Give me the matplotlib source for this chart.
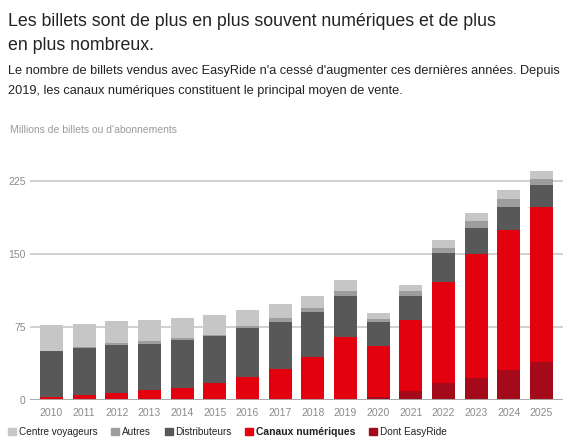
import matplotlib
matplotlib.use("Agg")
import matplotlib.pyplot as plt
from matplotlib.patches import Patch
import numpy as np

plt.rcParams['font.family'] = ['Liberation Sans', 'DejaVu Sans']

years = ['2010', '2011', '2012', '2013', '2014', '2015', '2016', '2017',
         '2018', '2019', '2020', '2021', '2022', '2023', '2024', '2025']
# component values (millions); EasyRide is a part of Canaux numériques
easyride = [0, 0, 0, 0, 0, 0, 0, 0, 0, 0, 3.1, 9.2, 17.5, 22.6, 30.8, 39.0]
numeriques = [3.1, 5.1, 7.2, 10.6, 12.7, 17.5, 23.6, 31.9, 44.2, 64.7, 55.8, 82.2, 121.2, 150.0, 174.7, 198.3]
distributeurs = [47.2, 48.3, 49.3, 47.3, 48.9, 48.3, 50.4, 48.2, 46.2, 42.2, 24.3, 24.7, 29.8, 26.7, 23.6, 22.6]
autres = [0.0, 0.7, 2.1, 2.7, 2.1, 1.3, 2.4, 4.1, 4.1, 5.1, 3.1, 5.1, 5.2, 7.2, 8.2, 6.2]
centre = [26.7, 23.9, 22.6, 21.6, 20.5, 20.2, 16.1, 14.4, 12.4, 11.3, 6.2, 6.2, 8.2, 8.2, 9.3, 8.2]
yticks = [0, 75, 150, 225]

labels = ['Centre voyageurs', 'Autres', 'Distributeurs', 'Canaux numériques', 'Dont EasyRide']
colors = {'centre': '#c6c6c6', 'autres': '#9d9d9d', 'dist': '#575857',
          'num': '#e3000f', 'easy': '#a50a1a'}

fig = plt.figure(figsize=(5.71, 4.48), dpi=100)
W, H = 571, 448
ax = fig.add_axes([30 / W, (H - 400) / H, (563 - 30) / W, (400 - 166.4) / H])

x = np.arange(len(years))
e = np.array(easyride)
n = np.array(numeriques)
d = np.array(distributeurs)
a = np.array(autres)
c = np.array(centre)
bw = 0.70
ax.bar(x, e, bw, color=colors['easy'], zorder=3)
ax.bar(x, n - e, bw, bottom=e, color=colors['num'], zorder=3)
ax.bar(x, d, bw, bottom=n, color=colors['dist'], zorder=3)
ax.bar(x, a, bw, bottom=n + d, color=colors['autres'], zorder=3)
ax.bar(x, c, bw, bottom=n + d + a, color=colors['centre'], zorder=3)

ax.set_xlim(-0.66, len(years) - 1 + 0.66)
ax.set_ylim(0, 240)
ax.set_yticks(yticks)
ax.set_yticklabels([str(v) for v in yticks])
ax.set_xticks(x)
ax.set_xticklabels(years)
for s in ax.spines.values():
    s.set_visible(False)
ax.tick_params(axis='both', length=0, labelsize=7.5, labelcolor='#8a8a8a')
ax.tick_params(axis='x', pad=6)
ax.tick_params(axis='y', pad=3)
for v in yticks:
    if v == 0:
        ax.axhline(v, color='#a8a8a8', lw=1.4, zorder=4)
    else:
        ax.axhline(v, color='#c8c8c8', lw=1.2, zorder=1)

fig.text(8 / W, 1 - 26 / H, "Les billets sont de plus en plus souvent numériques et de plus",
         fontsize=12.75, color='#222222', va='baseline', ha='left')
fig.text(8 / W, 1 - 50 / H, "en plus nombreux.",
         fontsize=12.75, color='#222222', va='baseline', ha='left')
fig.text(8 / W, 1 - 74 / H,
         "Le nombre de billets vendus avec EasyRide n'a cessé d'augmenter ces dernières années. Depuis",
         fontsize=9.2, color='#222222', va='baseline', ha='left')
fig.text(8 / W, 1 - 93.5 / H,
         "2019, les canaux numériques constituent le principal moyen de vente.",
         fontsize=9.2, color='#222222', va='baseline', ha='left')
fig.text(10 / W, 1 - 133 / H, "Millions de billets ou d'abonnements",
         fontsize=7.45, color='#9a9a9a', va='baseline', ha='left')

handles = [Patch(color=colors['centre']), Patch(color=colors['autres']),
           Patch(color=colors['dist']), Patch(color=colors['num']),
           Patch(color=colors['easy'])]
leg = fig.legend(handles, labels, loc='center left', bbox_to_anchor=(6 / W, 1 - 432 / H),
                 ncol=5, frameon=False, fontsize=7.2, handlelength=0.8, handleheight=0.8,
                 handletextpad=0.3, columnspacing=1.35, borderaxespad=0, borderpad=0.2)
for t in leg.get_texts():
    t.set_color('#222222')
leg.get_texts()[3].set_fontweight('bold')
leg.get_texts()[3].set_fontsize(7.5)

fig.savefig('out.png', dpi=100)
